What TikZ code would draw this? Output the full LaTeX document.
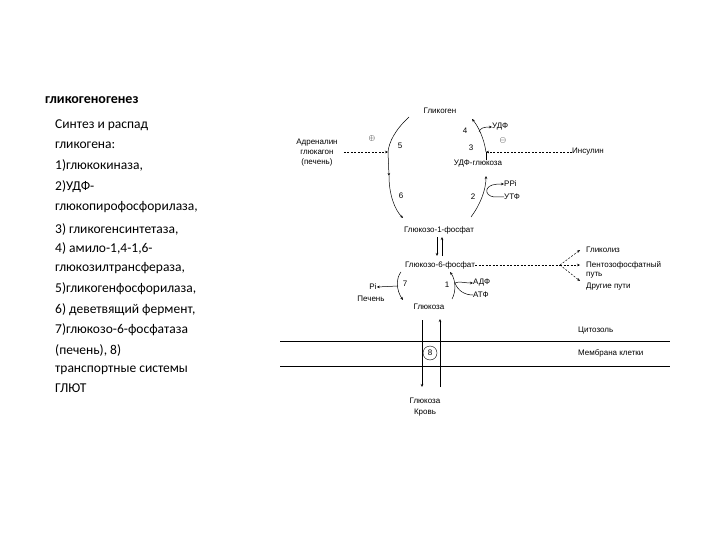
\documentclass[tikz,border=0pt]{standalone}
\usepackage{fontspec}
\setmainfont{Liberation Sans}
\newfontfamily\calib{Carlito}
\usetikzlibrary{arrows.meta}
\begin{document}
\begin{tikzpicture}[x=1pt,y=-1pt,
  lab/.style={font=\fontsize{8}{9}\selectfont,inner sep=0pt},
  ln/.style={line width=0.5pt},
  arr/.style={ln,-{Stealth[length=3pt,width=2.5pt]}},
  dsh/.style={arr,dashed,dash pattern=on 2pt off 1.5pt},
  txt/.style={font=\calib\fontsize{13.5}{14}\selectfont,anchor=west,inner sep=0pt}]
\useasboundingbox (0,0) rectangle (720,540);
\node[font=\calib\bfseries\fontsize{14}{15}\selectfont,anchor=west,inner sep=0pt] (title) at (45,100) {гликогеногенез};
\node[txt] (l1) at (55,125) {Синтез и распад};
\node[txt] (l2) at (55,145) {гликогена:};
\node[txt] (l3) at (55,165) {1)глюкокиназа,};
\node[txt] (l4) at (55,187) {2)УДФ-};
\node[txt] (l5) at (55,207) {глюкопирофосфорилаза,};
\node[txt] (l6) at (55,229) {3) гликогенсинтетаза,};
\node[txt] (l7) at (55,248) {4) амило-1,4-1,6-};
\node[txt] (l8) at (55,268) {глюкозилтрансфераза,};
\node[txt] (l9) at (55,289) {5)гликогенфосфорилаза,};
\node[txt] (l10) at (55,310) {6) деветвящий фермент,};
\node[txt] (l11) at (55,330) {7)глюкозо-6-фосфатаза};
\node[txt] (l12) at (55,350) {(печень), 8)};
\node[txt] (l13) at (55,370) {транспортные системы};
\node[txt] (l14) at (55,388) {ГЛЮТ};

% diagram nodes
\node[lab] (glg) at (440,111) {Гликоген};
\node[lab,align=center,font=\fontsize{8}{10}\selectfont] (adr) at (317,153) {Адреналин\\глюкагон\\(печень)};
\node[lab] (udpg) at (478,164) {УДФ-глюкоза};
\node[lab] (g1p) at (439,230) {Глюкозо-1-фосфат};
\node[lab] (g6p) at (440,265) {Глюкозо-6-фосфат};
\node[lab] (glc) at (429,307) {Глюкоза};
\node[lab,align=center,font=\fontsize{8}{11}\selectfont] (blood) at (425,407) {Глюкоза\\Кровь};
\node[lab,anchor=west] (ins) at (572,152) {Инсулин};
\node[lab,anchor=west] (udp) at (492,127) {УДФ};
\node[lab,anchor=west] (ppi) at (504,184) {PPi};
\node[lab,anchor=west] (utp) at (504,197) {УТФ};
\node[lab,anchor=west] (adp) at (473,283) {АДФ};
\node[lab,anchor=west] (atp) at (473,295) {АТФ};
\node[lab] (pi) at (373,287) {Pi};
\node[lab] (liv) at (371,299) {Печень};
\node[lab,anchor=west] (glyc) at (586,250) {Гликолиз};
\node[lab,anchor=west,align=left,font=\fontsize{8}{9}\selectfont] (pent) at (586,270) {Пентозофосфатный\\путь};
\node[lab,anchor=west] (oth) at (586,287) {Другие пути};
\node[lab,anchor=west] (cyt) at (578,331) {Цитозоль};
\node[lab,anchor=west] (mem) at (578,353) {Мембрана клетки};
\node[lab] (n5) at (400,146) {5};
\node[lab] (n6) at (401,196) {6};
\node[lab] (n4) at (465,131) {4};
\node[lab] (n3) at (471,148) {3};
\node[lab] (n2) at (473,197) {2};
\node[lab] (n7) at (405,284) {7};
\node[lab] (n1) at (447,285) {1};
\node[lab] (plus) at (372,139) {$\oplus$};
\node[lab] (minus) at (503,141) {$\ominus$};

% left arc 5/6
\coordinate (a5) at (388,152);
\coordinate (a6) at (389,176);
\draw[ln] (409,117) .. controls (395,130) and (389,142) .. (a5);
\draw[arr] (a5) -- (a6);
\draw[arr] (a6) .. controls (389,195) and (395,210) .. (403,218);
\draw[dsh] (adr.east)+(6,-1) -- (a5);
% right arc 2
\coordinate (b2) at (486,176);
\draw[arr] (471,217) .. controls (480,205) and (486,190) .. (b2);
\coordinate (pp) at (487,189);
\draw[arr] (pp) .. controls (489,185) and (494,184) .. (ppi.west);
\draw[ln] (utp.west) -- (494,197) .. controls (489,196) and (486,194) .. (pp);
% right arc 3/4
\coordinate (b3) at (486,152);
\draw[ln] (udpg.north -| b3) -- (b3);
\draw[arr] (b3) .. controls (484,138) and (478,126) .. (472,119);
\coordinate (ud) at (479,132);
\draw[arr] (ud) .. controls (480,128) and (484,127) .. (udp.west);
\draw[dsh] (ins.west) -- (b3);
% G1P <-> G6P
\draw[arr] (437,237) -- (437,256);
\draw[arr] (442,256) -- (442,237);
% G6P fan
\coordinate (fan) at (560,265);
\draw[ln,dashed,dash pattern=on 2pt off 1.5pt] (g6p.east) -- (fan);
\draw[dsh] (fan) -- (580,250);
\draw[dsh] (fan) -- (580,265);
\draw[dsh] (fan) -- (580,281);
% 7
\coordinate (c7) at (398,286);
\draw[arr] (401,272) .. controls (396,278) and (396,290) .. (403,300);
\draw[arr] (c7) -- (pi.east);
% 1
\coordinate (c1) at (455,283);
\draw[arr] (452,299) .. controls (456,292) and (456,280) .. (450,272);
\draw[arr] (c1) .. controls (459,281) and (464,283) .. (adp.west);
\draw[ln] (atp.west) .. controls (465,295) and (458,291) .. (c1);
% transport
\draw[line width=0.4pt] (280,341) -- (670,341);
\draw[line width=0.9pt] (280,366) -- (670,366);
\node[lab,draw,circle,minimum size=14pt,inner sep=0pt,fill=white] (n8) at (430,353) {8};
\draw[arr] (422,320) -- (422,387);
\draw[arr] (440,387) -- (440,319);
\end{tikzpicture}
\end{document}
